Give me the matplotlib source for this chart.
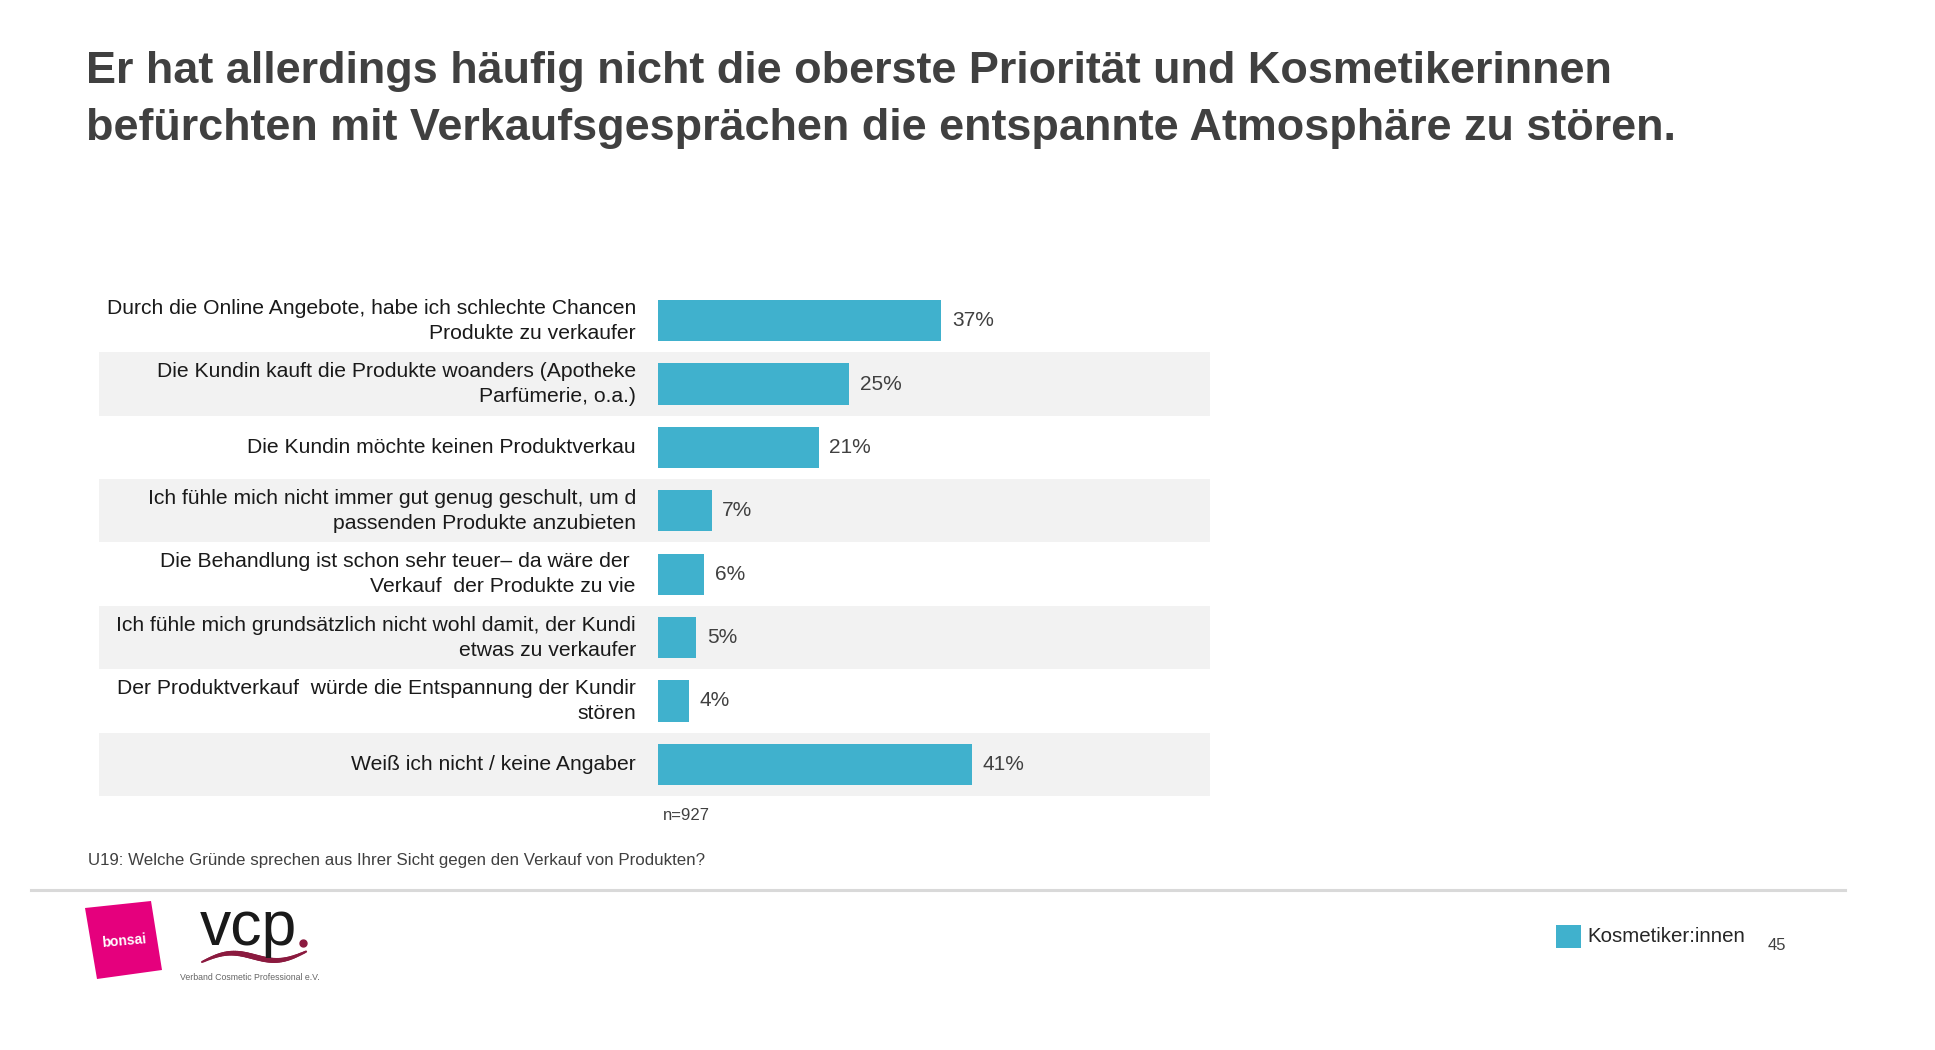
import matplotlib
matplotlib.use("Agg")
import matplotlib.pyplot as plt
from matplotlib.patches import Polygon, Rectangle
import numpy as np

plt.rcParams['font.family'] = ['Liberation Sans', 'DejaVu Sans']

TITLE_1 = "Er hat allerdings häufig nicht die oberste Priorität und Kosmetikerinnen"
TITLE_2 = "befürchten mit Verkaufsgesprächen die entspannte Atmosphäre zu stören."

LABELS = ["Durch die Online Angebote, habe ich schlechte Chancen\nProdukte zu verkaufer",
          "Die Kundin kauft die Produkte woanders (Apotheke\nParfümerie, o.a.)",
          "Die Kundin möchte keinen Produktverkau",
          "Ich fühle mich nicht immer gut genug geschult, um d\npassenden Produkte anzubieten",
          "Die Behandlung ist schon sehr teuer– da wäre der \nVerkauf  der Produkte zu vie",
          "Ich fühle mich grundsätzlich nicht wohl damit, der Kundi\netwas zu verkaufer",
          "Der Produktverkauf  würde die Entspannung der Kundir\nstören",
          "Weiß ich nicht / keine Angaber"]
VALUES = [37, 25, 21, 7, 6, 5, 4, 41]
SERIES = "Kosmetiker:innen"
N_TEXT = "n=927"
QUESTION = "U19: Welche Gründe sprechen aus Ihrer Sicht gegen den Verkauf von Produkten?"
PAGE = "45"

BAR_COLOR = "#40B1CD"
BAND_COLOR = "#F2F2F2"
TEXT_COLOR = "#404040"

W, H = 1935, 1050
fig = plt.figure(figsize=(W / 100, H / 100), dpi=100)


def fx(px):
    return px / W


def fy(py):
    return 1 - py / H


# chart area: bands from x=99 to 1210, bars start at x=658
px_per_pct = 7.65
left_px, right_px, zero_px = 99, 1210, 658
top_px, bot_px = 289, 796
ax = fig.add_axes([fx(left_px), fy(bot_px), fx(right_px - left_px), (bot_px - top_px) / H])
ax.set_xlim(-(zero_px - left_px) / px_per_pct, (right_px - zero_px) / px_per_pct)
ax.set_ylim(len(VALUES) - 0.5, -0.5)
ax.axis("off")

y = np.arange(len(VALUES))
for i in y:
    if i % 2 == 1:
        ax.axhspan(i - 0.5, i + 0.5, color=BAND_COLOR, zorder=0, lw=0)
ax.barh(y, VALUES, height=0.65, color=BAR_COLOR, zorder=2)
for i, (lab, v) in enumerate(zip(LABELS, VALUES)):
    ax.text(-2.9, i, lab, ha="right", va="center", fontsize=15.2, color="#1a1a1a",
            linespacing=1.4, multialignment="right")
    ax.text(v + 1.4, i, f"{v}%", ha="left", va="center", fontsize=15, color=TEXT_COLOR)

# titles
fig.text(fx(86), fy(83), TITLE_1, fontsize=32.4, fontweight="bold", color=TEXT_COLOR, va="baseline")
fig.text(fx(86), fy(140), TITLE_2, fontsize=32.4, fontweight="bold", color=TEXT_COLOR, va="baseline")

fig.text(fx(663), fy(815), N_TEXT, fontsize=12, color=TEXT_COLOR, va="center")
fig.text(fx(88), fy(860), QUESTION, fontsize=12.2, color=TEXT_COLOR, va="center")

# separator
fig.add_artist(plt.Line2D([fx(31), fx(1845)], [fy(890), fy(890)], color="#D9D9D9", lw=2.2))

# legend
fig.add_artist(Rectangle((fx(1556), fy(948)), fx(25), 23 / H, color=BAR_COLOR, lw=0))
fig.text(fx(1587), fy(937), SERIES, fontsize=14.8, color="#262626", va="center")
fig.text(fx(1768), fy(945), PAGE, fontsize=12, color=TEXT_COLOR, va="center")

# bonsai logo
pts = [(85, 908), (151, 901), (162, 970), (97, 979)]
fig.add_artist(Polygon([(fx(a), fy(b)) for a, b in pts], closed=True, color="#E5007D", lw=0))
fig.text(fx(124), fy(941), "bonsai", fontsize=10, fontweight="bold", color="white",
         ha="center", va="center", rotation=5)

# vcp logo
fig.text(fx(200), fy(928), "vcp", fontsize=45, color="#1a1a1a", va="center", ha="left")
fig.add_artist(plt.Line2D([fx(303)], [fy(943)], marker="o", ms=5, color="#8B1A3F", lw=0))
sx = np.linspace(202, 306, 60)
sy = 962 - 6 * np.sin((sx - 202) / 104 * 2 * np.pi) - (sx - 202) * 0.1
lw = 1.5 + 2.5 * np.sin((sx - 202) / 104 * np.pi)
for k in range(len(sx) - 1):
    fig.add_artist(plt.Line2D(fx(sx[k:k + 2]), fy(sy[k:k + 2]), color="#8B1A3F", lw=lw[k],
                              solid_capstyle="round"))
fig.text(fx(180), fy(978), "Verband Cosmetic Professional e.V.", fontsize=6.3, color="#666666", va="center")

fig.savefig("out.png", dpi=100, facecolor="white")
